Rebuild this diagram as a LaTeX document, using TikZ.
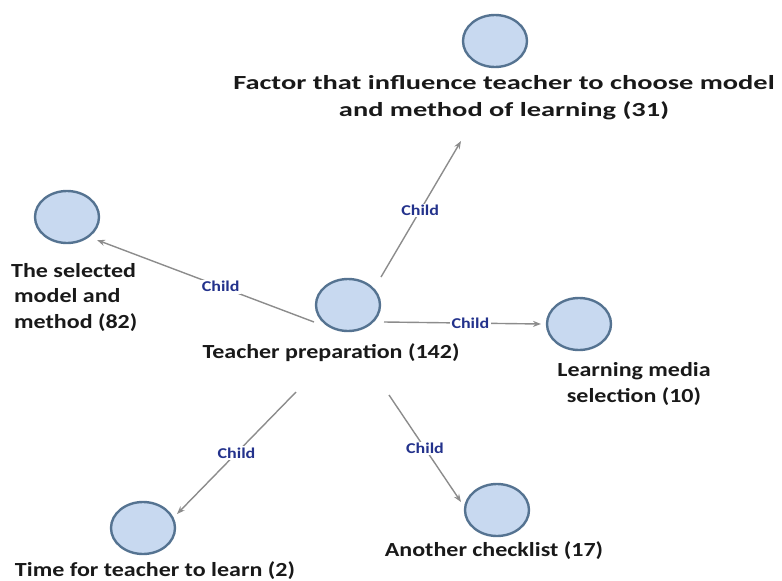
\documentclass[tikz,border=0pt]{standalone}
\usepackage{fontspec}
\setmainfont{Carlito}[FakeStretch=1.2]
\newfontfamily\widefont{Carlito}[FakeStretch=1.42]
\usetikzlibrary{arrows.meta,calc,shapes.geometric}
\definecolor{nodefill}{RGB}{200,217,240}
\definecolor{nodeline}{RGB}{85,115,145}
\definecolor{edgecol}{RGB}{140,140,140}
\definecolor{childcol}{RGB}{35,50,140}
\definecolor{txtcol}{RGB}{25,25,25}
\tikzset{
  topic/.style={ellipse,draw=nodeline,fill=nodefill,line width=2.4pt,minimum width=64pt,minimum height=52pt,inner sep=0pt},
  ttl/.style={font=\fontsize{20}{25.5}\selectfont\bfseries,text=txtcol,inner sep=0pt},
  rel/.style={edgecol,line width=1.4pt,-{Stealth[length=8pt,width=6pt]}},
  childlbl/.style={font=\fontsize{15}{17}\selectfont\bfseries,text=childcol,fill=white,inner sep=1.5pt}
}
\begin{document}
\begin{tikzpicture}[x=1pt,y=-1pt]
\useasboundingbox (0,0) rectangle (782,581);
\node[topic] (c) at (348,305) {};
\node[topic] (top) at (495,41) {};
\node[topic] (left) at (67,217) {};
\node[topic] (right) at (579,324) {};
\node[topic] (br) at (497,510) {};
\node[topic] (bl) at (143,528) {};

\node[ttl,align=center,font=\fontsize{20}{27}\selectfont\widefont\bfseries] (ttop) at (504,98) {Factor that influence teacher to choose model\\and method of learning (31)};
\node[ttl,align=left,anchor=west] (tleft) at (11,297) {The selected\\\hspace*{3pt}model and\\\hspace*{3pt}method (82)};
\node[ttl] (tc) at (331,353) {Teacher preparation (142)};
\node[ttl,align=center] (tright) at (634,384) {Learning media\\selection (10)};
\node[ttl] (tbr) at (494,551) {Another checklist (17)};
\node[ttl] (tbl) at (155,571) {Time for teacher to learn (2)};

\draw[rel] ($(c)+(33,-28)$) -- node[childlbl,pos=0.49] (l1) {Child} ($(top)+(-34,100)$);
\draw[rel] ($(c)+(-34,17)$) -- node[childlbl,pos=0.43] (l2) {Child} ($(left)+(30,23)$);
\draw[rel] ($(c)+(36,17)$) -- node[childlbl,pos=0.55] (l3) {Child} ($(right)+(-38,0)$);
\draw[rel] ($(c)+(-52,87)$) -- node[childlbl,pos=0.5] (l4) {Child} ($(bl)+(34,-14)$);
\draw[rel] ($(c)+(41,90)$) -- node[childlbl,pos=0.5] (l5) {Child} ($(br)+(-36,-8)$);
\end{tikzpicture}
\end{document}
